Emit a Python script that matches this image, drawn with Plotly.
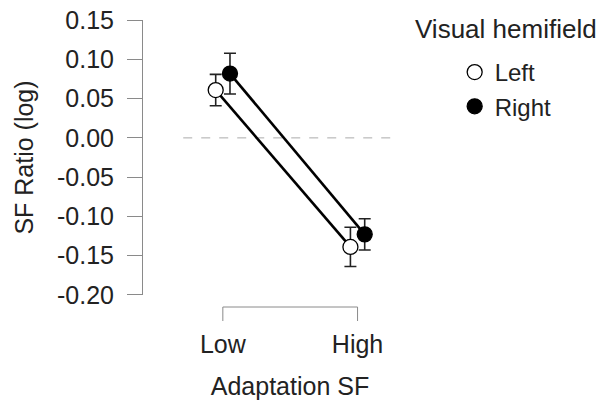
import plotly.graph_objects as go

# ---- data ----
conditions = ["Low", "High"]
hemifields = ["Left", "Right"]
left_mean = [0.061, -0.139]
left_err = [0.020, 0.025]
right_mean = [0.082, -0.123]
right_err = [0.026, 0.020]
y_ticks = [0.15, 0.10, 0.05, 0.00, -0.05, -0.10, -0.15, -0.20]

W, H = 606, 406
L_PX, R_PX, T_PX, B_PX = 142.7, 437.3, 20, 295
FONT = "Liberation Sans, Arial, sans-serif"
TXT = "#222222"
AX = "#8a8a8a"

xpos = list(range(1, len(conditions) + 1))
dodge = 0.053

fig = go.Figure()
series = [
    ("Left", left_mean, left_err, "white", -dodge),
    ("Right", right_mean, right_err, "black", dodge),
]
for name, m, e, fill, off in series:
    xs = [p + off for p in xpos]
    fig.add_trace(go.Scatter(
        x=xs, y=m, mode="lines", showlegend=False, hoverinfo="skip",
        line=dict(color="black", width=2.6),
    ))
for name, m, e, fill, off in series:
    xs = [p + off for p in xpos]
    fig.add_trace(go.Scatter(
        x=xs, y=m, name=name, mode="markers",
        marker=dict(size=15, color=fill, line=dict(color="black", width=1.3)),
        error_y=dict(type="data", array=e, visible=True, color="#222222",
                     thickness=1.6, width=6),
    ))

# zero reference line
fig.add_shape(type="line", xref="x", yref="y", x0=0.706, x1=2.291, y0=0, y1=0,
              line=dict(color="#aaaaaa", width=1, dash="dash"), layer="below")

# x-axis bracket
plot_h = B_PX - T_PX
plot_w = R_PX - L_PX
yb = -12 / plot_h
yt = -26 / plot_h
fig.add_shape(type="line", xref="x", yref="paper", x0=xpos[0], x1=xpos[-1], y0=yb, y1=yb,
              line=dict(color=AX, width=1))
for p in xpos:
    fig.add_shape(type="line", xref="x", yref="paper", x0=p, x1=p, y0=yb, y1=yt,
                  line=dict(color=AX, width=1))

px_per_unit = 135.0
x_lo = 1 - 80.0 / px_per_unit
x_hi = x_lo + plot_w / px_per_unit
eps = 0.0003

fig.update_layout(
    width=W, height=H,
    margin=dict(l=L_PX, r=W - R_PX, t=T_PX, b=H - B_PX, pad=0, autoexpand=False),
    paper_bgcolor="white", plot_bgcolor="white",
    font=dict(family=FONT, size=25, color=TXT),
    showlegend=True,
    legend=dict(x=(455 - L_PX) / plot_w, xanchor="left",
                y=1 - (50 - T_PX) / plot_h, yanchor="top",
                font=dict(size=24, color=TXT), bgcolor="rgba(0,0,0,0)",
                itemwidth=30, tracegroupgap=0),
    xaxis=dict(range=[x_lo, x_hi], tickvals=xpos, ticktext=conditions,
               showline=False, showgrid=False, zeroline=False, ticks="",
               automargin=False, ticklabeloverflow="allow",
               ticklabelstandoff=32, tickfont=dict(size=25, color=TXT),
               title=dict(text="Adaptation SF", font=dict(size=25, color=TXT), standoff=20)),
    yaxis=dict(range=[min(y_ticks) - eps, max(y_ticks) + eps], tickvals=y_ticks,
               ticktext=[f"{v:.2f}" for v in y_ticks],
               showline=True, linecolor=AX, linewidth=1,
               ticks="outside", ticklen=15, tickcolor=AX, tickwidth=1,
               ticklabelstandoff=8, showgrid=False, zeroline=False,
               automargin=False, ticklabeloverflow="allow",
               tickfont=dict(size=25, color=TXT),
               title=dict(text="SF Ratio (log)", font=dict(size=25, color=TXT), standoff=16)),
)

fig.add_annotation(text="Visual hemifield", xref="paper", yref="paper",
                   x=(413 - L_PX) / plot_w, xanchor="left",
                   y=1 - (29 - T_PX) / plot_h, yanchor="middle",
                   showarrow=False, font=dict(size=26, color=TXT))

fig.write_html("out.html", config={"displayModeBar": False},
               post_script="document.body.style.margin='0';")
